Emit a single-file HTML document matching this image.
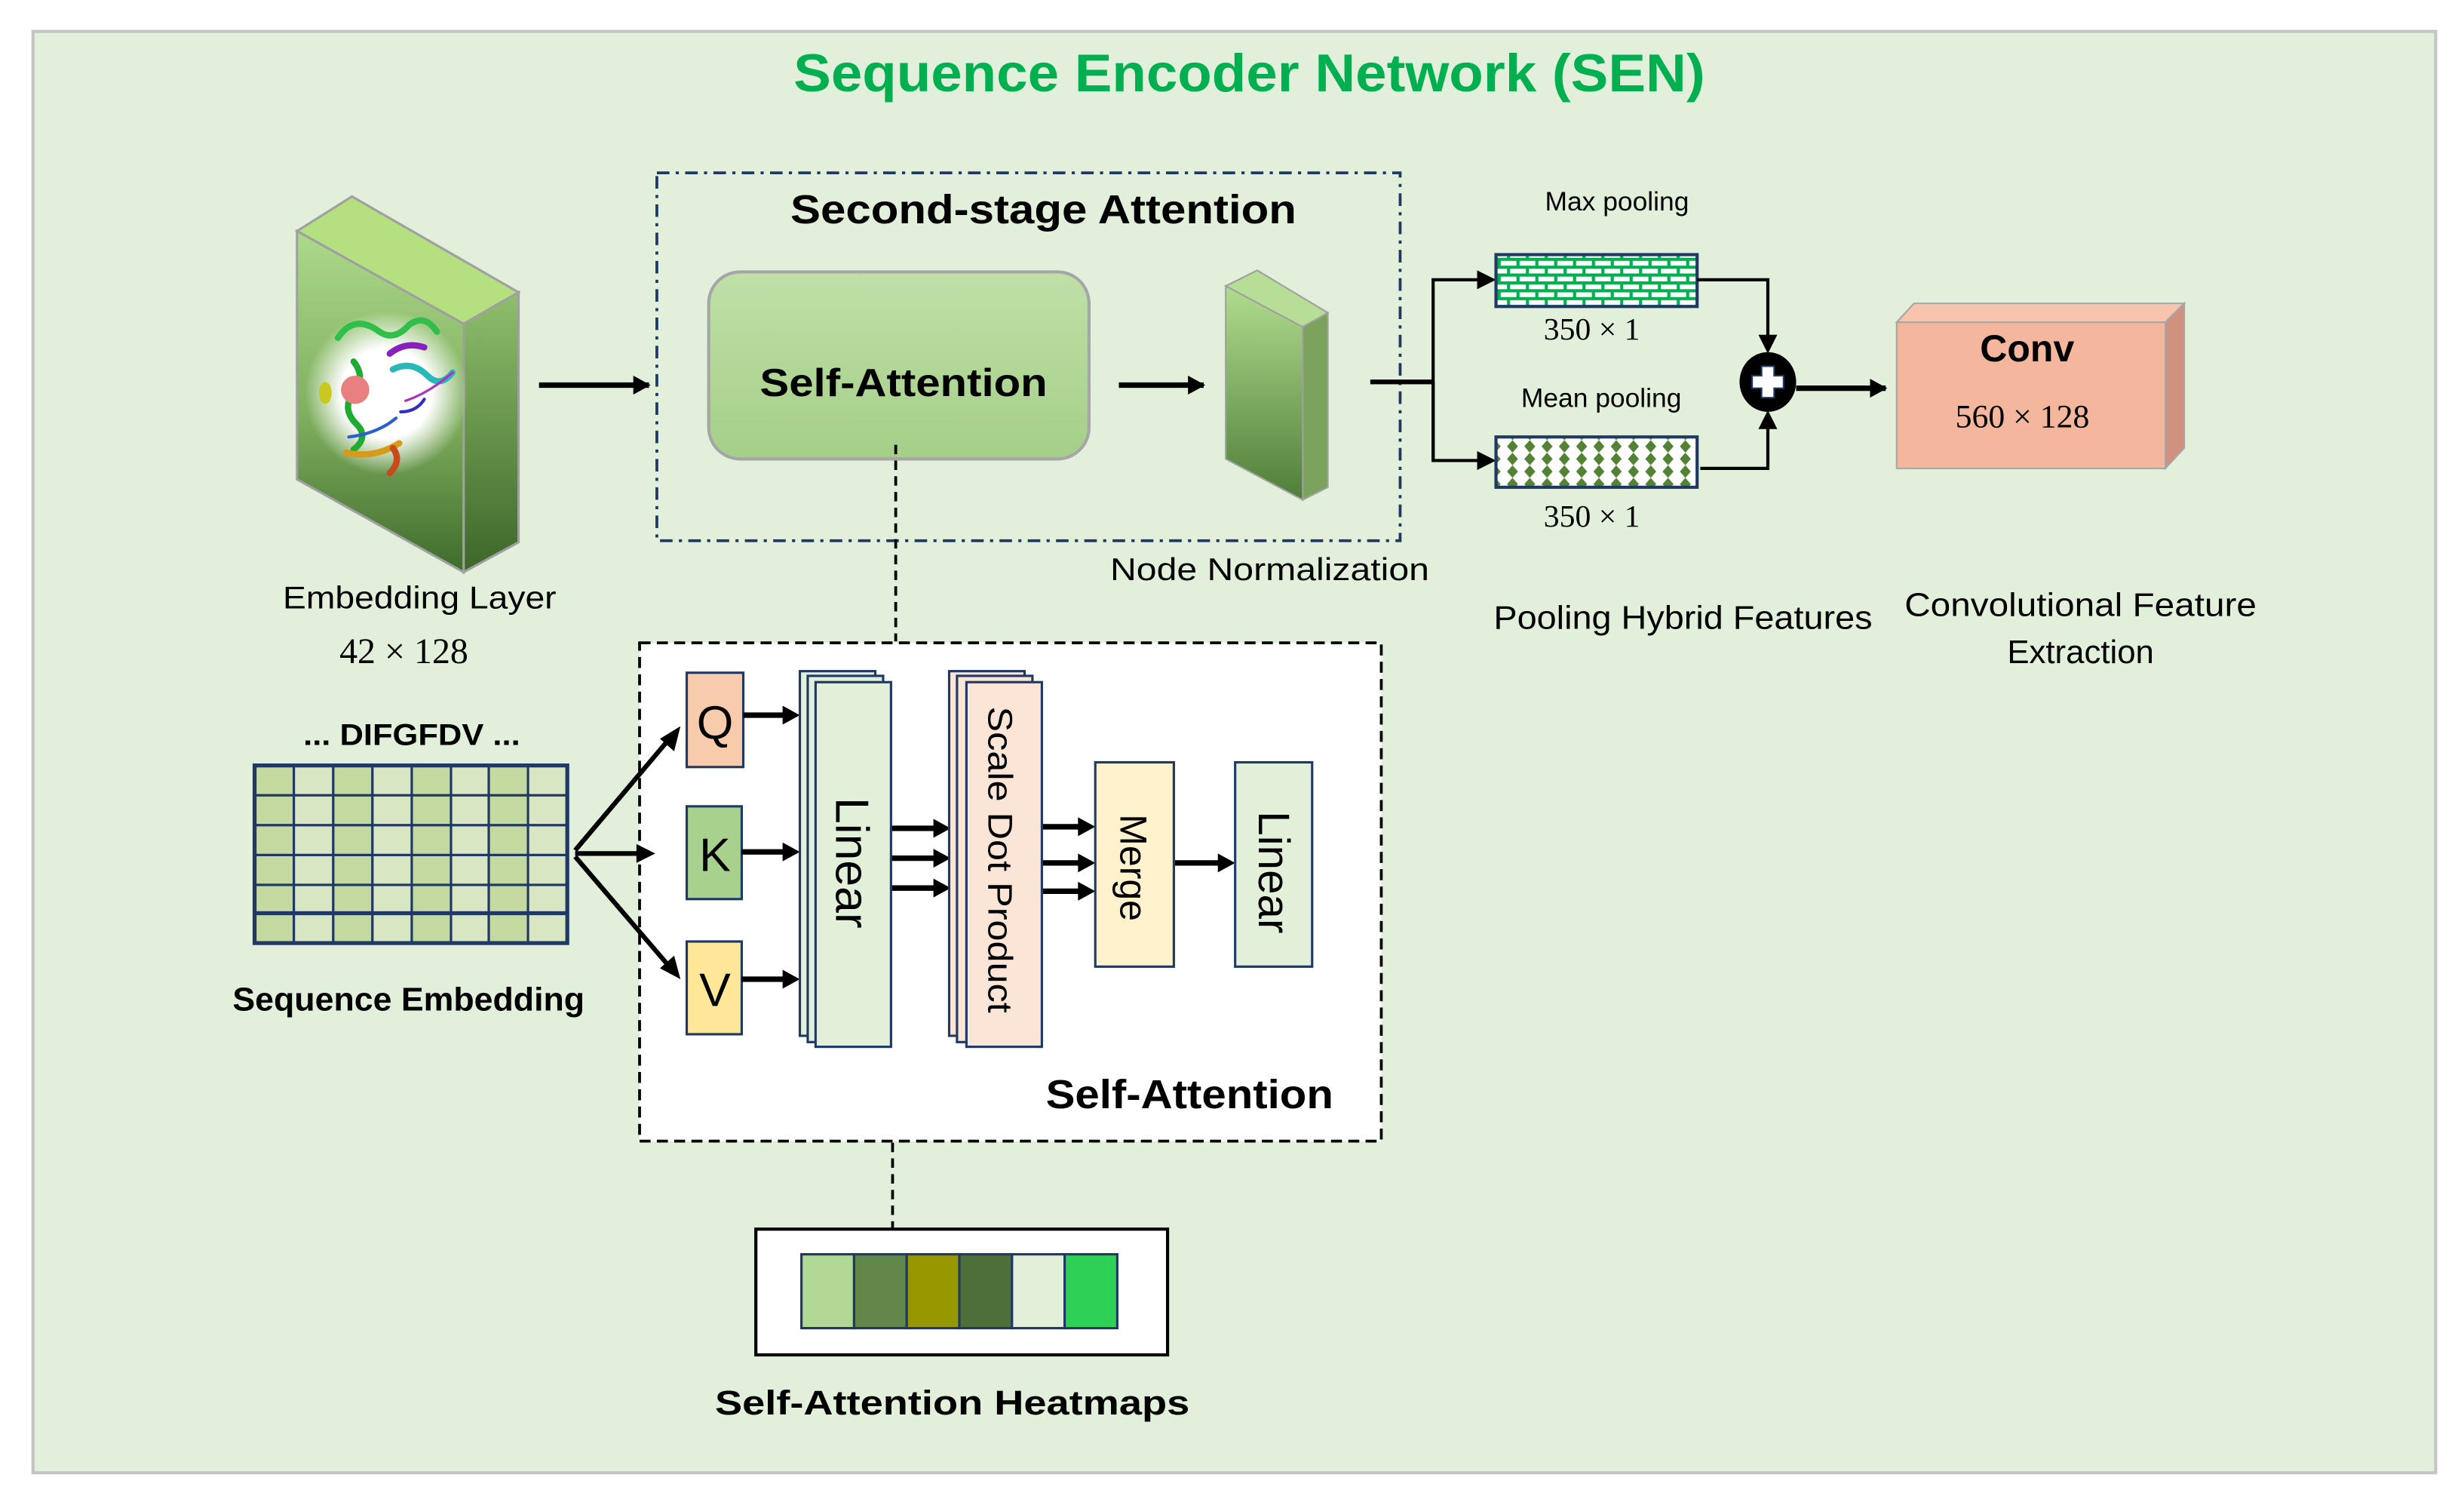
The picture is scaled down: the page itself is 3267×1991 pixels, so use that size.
<!DOCTYPE html>
<html><head><meta charset="utf-8"><style>html,body{margin:0;padding:0;background:#fff}svg{display:block}</style></head>
<body>
<svg width="3267" height="1991" viewBox="0 0 1568 955.6" xmlns="http://www.w3.org/2000/svg" font-family="Liberation Sans, sans-serif">
<defs>
<linearGradient id="emb" x1="0" y1="0" x2="0" y2="1"><stop offset="0" stop-color="#acd98a"/><stop offset="0.55" stop-color="#7fae5e"/><stop offset="1" stop-color="#3f6b2c"/></linearGradient>
<linearGradient id="embR" x1="0" y1="0" x2="0" y2="1"><stop offset="0" stop-color="#8fbf6c"/><stop offset="1" stop-color="#3d6629"/></linearGradient>
<radialGradient id="glow" cx="0.5" cy="0.5" r="0.5"><stop offset="0.55" stop-color="#fff"/><stop offset="1" stop-color="#fff" stop-opacity="0"/></radialGradient>
<linearGradient id="sa" x1="0" y1="0" x2="0" y2="1"><stop offset="0" stop-color="#bfe0a8"/><stop offset="1" stop-color="#a5cf88"/></linearGradient>
<linearGradient id="nn" x1="0" y1="0" x2="0" y2="1"><stop offset="0" stop-color="#b0dc8e"/><stop offset="1" stop-color="#4f7e38"/></linearGradient>
<pattern id="brick" width="12" height="10" patternUnits="userSpaceOnUse"><rect width="12" height="10" fill="#00b050"/><rect x="1" y="1" width="10" height="3" fill="#fff"/><rect x="-5" y="6" width="10" height="3" fill="#fff"/><rect x="7" y="6" width="10" height="3" fill="#fff"/></pattern>
<pattern id="diam" width="11" height="16" patternUnits="userSpaceOnUse"><rect width="11" height="16" fill="#fff"/><path d="M5.5 0 L9 4 L5.5 8 L2 4Z M5.5 8 L9 12 L5.5 16 L2 12Z" fill="#548235"/></pattern>
<marker id="ahs" markerWidth="12" markerHeight="12" refX="10" refY="6" orient="auto" markerUnits="userSpaceOnUse"><path d="M0 0 L11 6 L0 12Z" fill="#000"/></marker>
</defs>
<rect x="21" y="20" width="1529" height="917" fill="#e2efda" stroke="#c4c4c4" stroke-width="2"/>
<text x="795" y="58" text-anchor="middle" font-size="34" font-weight="bold" fill="#00b050" textLength="580" lengthAdjust="spacingAndGlyphs">Sequence Encoder Network (SEN)</text>

<polygon points="189,147 224,125 330,186 295,206" fill="#b5e07f" stroke="#a0a0a0" stroke-width="1.5"/>
<polygon points="295,206 330,186 330,345 295,364" fill="url(#embR)" stroke="#a0a0a0" stroke-width="1.5"/>
<polygon points="189,147 295,206 295,364 189,305" fill="url(#emb)" stroke="#a0a0a0" stroke-width="1.5"/>
<ellipse cx="246" cy="250" rx="52" ry="52" fill="url(#glow)"/>
<g fill="none" stroke-width="4" stroke-linecap="round">
<path d="M215 215 q10 -15 25 -5 q10 8 20 -3 q10 -8 18 4" stroke="#2fbf4a"/>
<path d="M225 230 q8 10 0 20 q-8 10 2 20 q8 8 -2 16" stroke="#1faa30"/>
<path d="M250 235 q12 -6 22 4 q8 8 16 -2" stroke="#29b8b8"/>
<path d="M248 225 q10 -8 22 -4" stroke="#8a1fc0"/>
<path d="M222 278 q18 -2 30 -12" stroke="#2a5fd0" stroke-width="2"/>
<path d="M220 288 q18 4 34 -6" stroke="#d79a1a"/>
<path d="M250 285 q6 8 -2 16" stroke="#c84a1a"/>
<path d="M258 255 q15 -5 30 -18" stroke="#b030c0" stroke-width="1.5"/>
<path d="M255 262 q10 0 15 -8" stroke="#3030c0" stroke-width="2"/>
</g>
<ellipse cx="226" cy="248" rx="9" ry="9" fill="#e88080"/>
<ellipse cx="207" cy="250" rx="4" ry="7" fill="#c8c820"/>

<line x1="343" y1="245" x2="413" y2="245" stroke="#000" stroke-width="3.5" marker-end="url(#ahs)"/>

<rect x="418" y="110" width="473" height="234" fill="none" stroke="#1f3864" stroke-width="1.8" stroke-dasharray="8,4,2,4"/>
<text x="664" y="142" text-anchor="middle" font-size="26" font-weight="bold" textLength="322" lengthAdjust="spacingAndGlyphs">Second-stage Attention</text>
<rect x="451" y="173" width="242" height="119" rx="20" fill="url(#sa)" stroke="#a6a6a6" stroke-width="2"/>
<text x="575" y="252" text-anchor="middle" font-size="25" font-weight="bold" textLength="183" lengthAdjust="spacingAndGlyphs">Self-Attention</text>
<line x1="712" y1="245" x2="766" y2="245" stroke="#000" stroke-width="3.5" marker-end="url(#ahs)"/>
<polygon points="780,182 800,172 845,199 829,208" fill="#b6de96" stroke="#a0a0a0"/>
<polygon points="829,208 845,199 845,310 829,318" fill="#7ba35d" stroke="#a0a0a0"/>
<polygon points="780,182 829,208 829,318 780,292" fill="url(#nn)" stroke="#a0a0a0"/>
<text x="808" y="369" text-anchor="middle" font-size="20" textLength="203" lengthAdjust="spacingAndGlyphs">Node Normalization</text>

<line x1="872" y1="243" x2="912" y2="243" stroke="#000" stroke-width="3"/>
<polyline points="912,293 912,178 948,178" fill="none" stroke="#000" stroke-width="2"/>
<path d="M940 172 L952 178 L940 184Z"/>
<polyline points="912,243 912,293 948,293" fill="none" stroke="#000" stroke-width="2"/>
<path d="M940 287 L952 293 L940 299Z"/>
<text x="1029" y="134" text-anchor="middle" font-size="17">Max pooling</text>
<rect x="952" y="162" width="128" height="33" fill="url(#brick)" stroke="#1f3864" stroke-width="2"/>
<text x="1013" y="216" text-anchor="middle" font-size="20" font-family="Liberation Serif, serif">350 × 1</text>
<text x="1019" y="259" text-anchor="middle" font-size="17">Mean pooling</text>
<rect x="952" y="278" width="128" height="32" fill="url(#diam)" stroke="#1f3864" stroke-width="2"/>
<text x="1013" y="335" text-anchor="middle" font-size="20" font-family="Liberation Serif, serif">350 × 1</text>
<polyline points="1080,178 1125,178 1125,216" fill="none" stroke="#000" stroke-width="2"/>
<path d="M1119 213 L1125 225 L1131 213Z"/>
<polyline points="1082,298 1125,298 1125,270" fill="none" stroke="#000" stroke-width="2"/>
<path d="M1119 273 L1125 261 L1131 273Z"/>
<ellipse cx="1125" cy="243" rx="18" ry="19" fill="#000"/>
<path d="M1121 233 h8 v6 h6 v8 h-6 v6 h-8 v-6 h-6 v-8 h6Z" fill="#fff" stroke="#1f3864" stroke-width="1"/>
<line x1="1143" y1="247" x2="1200" y2="247" stroke="#000" stroke-width="3.5" marker-end="url(#ahs)"/>
<text x="1071" y="400" text-anchor="middle" font-size="21" textLength="241" lengthAdjust="spacingAndGlyphs">Pooling Hybrid Features</text>

<polygon points="1207,205 1218,193 1390,193 1378,205" fill="#f8c4ae" stroke="#a6a6a6"/>
<polygon points="1378,205 1390,193 1390,285 1378,298" fill="#d0927e" stroke="#a6a6a6"/>
<rect x="1207" y="205" width="171" height="93" fill="#f4b69d" stroke="#a6a6a6"/>
<text x="1290" y="230" text-anchor="middle" font-size="24" font-weight="bold">Conv</text>
<text x="1287" y="272" text-anchor="middle" font-size="21" font-family="Liberation Serif, serif">560 × 128</text>
<text x="1324" y="392" text-anchor="middle" font-size="21" textLength="224" lengthAdjust="spacingAndGlyphs">Convolutional Feature</text>
<text x="1324" y="422" text-anchor="middle" font-size="21">Extraction</text>

<text x="267" y="387" text-anchor="middle" font-size="20" textLength="174" lengthAdjust="spacingAndGlyphs">Embedding Layer</text>
<text x="257" y="422" text-anchor="middle" font-size="23" font-family="Liberation Serif, serif">42 × 128</text>

<line x1="570" y1="283" x2="570" y2="408" stroke="#000" stroke-width="1.8" stroke-dasharray="6,4"/>

<text x="262" y="474" text-anchor="middle" font-size="19" font-weight="bold" textLength="138" lengthAdjust="spacingAndGlyphs">... DIFGFDV ...</text>
<g stroke="#1f3864" stroke-width="1.5">
<g fill="#c3d9a0">
<rect x="162" y="487" width="25" height="19"/><rect x="212" y="487" width="25" height="19"/><rect x="262" y="487" width="25" height="19"/><rect x="311" y="487" width="25" height="19"/>
<rect x="162" y="506" width="25" height="19"/><rect x="212" y="506" width="25" height="19"/><rect x="262" y="506" width="25" height="19"/><rect x="311" y="506" width="25" height="19"/>
<rect x="162" y="525" width="25" height="19"/><rect x="212" y="525" width="25" height="19"/><rect x="262" y="525" width="25" height="19"/><rect x="311" y="525" width="25" height="19"/>
<rect x="162" y="544" width="25" height="19"/><rect x="212" y="544" width="25" height="19"/><rect x="262" y="544" width="25" height="19"/><rect x="311" y="544" width="25" height="19"/>
<rect x="162" y="563" width="25" height="18"/><rect x="212" y="563" width="25" height="18"/><rect x="262" y="563" width="25" height="18"/><rect x="311" y="563" width="25" height="18"/>
<rect x="162" y="581" width="25" height="19"/><rect x="212" y="581" width="25" height="19"/><rect x="262" y="581" width="25" height="19"/><rect x="311" y="581" width="25" height="19"/>
</g>
<g fill="#d8e6c4">
<rect x="187" y="487" width="25" height="19"/><rect x="237" y="487" width="25" height="19"/><rect x="287" y="487" width="24" height="19"/><rect x="336" y="487" width="25" height="19"/>
<rect x="187" y="506" width="25" height="19"/><rect x="237" y="506" width="25" height="19"/><rect x="287" y="506" width="24" height="19"/><rect x="336" y="506" width="25" height="19"/>
<rect x="187" y="525" width="25" height="19"/><rect x="237" y="525" width="25" height="19"/><rect x="287" y="525" width="24" height="19"/><rect x="336" y="525" width="25" height="19"/>
<rect x="187" y="544" width="25" height="19"/><rect x="237" y="544" width="25" height="19"/><rect x="287" y="544" width="24" height="19"/><rect x="336" y="544" width="25" height="19"/>
<rect x="187" y="563" width="25" height="18"/><rect x="237" y="563" width="25" height="18"/><rect x="287" y="563" width="24" height="18"/><rect x="336" y="563" width="25" height="18"/>
<rect x="187" y="581" width="25" height="19"/><rect x="237" y="581" width="25" height="19"/><rect x="287" y="581" width="24" height="19"/><rect x="336" y="581" width="25" height="19"/>
</g>
</g>
<rect x="162" y="487" width="199" height="113" fill="none" stroke="#1f3864" stroke-width="2.5"/>
<line x1="162" y1="581" x2="361" y2="581" stroke="#1f3864" stroke-width="2.5"/>
<text x="260" y="643" text-anchor="middle" font-size="21" font-weight="bold" textLength="224" lengthAdjust="spacingAndGlyphs">Sequence Embedding</text>

<rect x="407" y="409" width="472" height="317" fill="#fff" stroke="#000" stroke-width="1.8" stroke-dasharray="7,4"/>

<g stroke="#000" stroke-width="3" fill="none">
<line x1="366" y1="541" x2="426" y2="470"/>
<line x1="366" y1="543" x2="410" y2="543"/>
<line x1="366" y1="545" x2="426" y2="615"/>
</g>
<path d="M433 462 L429 478 L420 470Z"/>
<path d="M417 543 L405 537 L405 549Z"/>
<path d="M433 623 L420 616 L429 608Z"/>

<rect x="437" y="428" width="36" height="60" fill="#f8cbad" stroke="#1f3864" stroke-width="1.5"/>
<text x="455" y="470" text-anchor="middle" font-size="30">Q</text>
<rect x="437" y="513" width="35" height="59" fill="#a9d18e" stroke="#1f3864" stroke-width="1.5"/>
<text x="455" y="554" text-anchor="middle" font-size="30">K</text>
<rect x="437" y="599" width="35" height="59" fill="#ffe699" stroke="#1f3864" stroke-width="1.5"/>
<text x="455" y="640" text-anchor="middle" font-size="30">V</text>
<g stroke="#000" stroke-width="3.5">
<line x1="473" y1="455" x2="500" y2="455"/><line x1="472" y1="542" x2="500" y2="542"/><line x1="472" y1="623" x2="500" y2="623"/>
<line x1="567" y1="527" x2="596" y2="527"/><line x1="567" y1="546" x2="596" y2="546"/><line x1="567" y1="565" x2="596" y2="565"/>
<line x1="663" y1="526" x2="688" y2="526"/><line x1="663" y1="549" x2="688" y2="549"/><line x1="663" y1="567" x2="688" y2="567"/>
<line x1="747" y1="549" x2="777" y2="549"/>
</g>
<g>
<path d="M498 449 L509 455 L498 461Z"/><path d="M498 536 L509 542 L498 548Z"/><path d="M498 617 L509 623 L498 629Z"/>
<path d="M594 521 L605 527 L594 533Z"/><path d="M594 540 L605 546 L594 552Z"/><path d="M594 559 L605 565 L594 571Z"/>
<path d="M686 520 L697 526 L686 532Z"/><path d="M686 543 L697 549 L686 555Z"/><path d="M686 561 L697 567 L686 573Z"/>
<path d="M775 543 L786 549 L775 555Z"/>
</g>
<g stroke="#1f3864" stroke-width="1.5">
<rect x="509" y="427" width="48" height="232" fill="#e2f0d9"/>
<rect x="514" y="430" width="48" height="233" fill="#e2f0d9"/>
<rect x="519" y="434" width="48" height="232" fill="#e2f0d9"/>
<rect x="604" y="427" width="48" height="232" fill="#fbe5d6"/>
<rect x="609" y="430" width="48" height="233" fill="#fbe5d6"/>
<rect x="615" y="434" width="48" height="232" fill="#fbe5d6"/>
<rect x="697" y="485" width="50" height="130" fill="#fff2cc"/>
<rect x="786" y="485" width="49" height="130" fill="#e2f0d9"/>
</g>
<text transform="translate(532,549) rotate(90)" text-anchor="middle" font-size="30">Linear</text>
<text transform="translate(629,547) rotate(90)" text-anchor="middle" font-size="22" textLength="195" lengthAdjust="spacingAndGlyphs">Scale Dot Product</text>
<text transform="translate(713,552) rotate(90)" text-anchor="middle" font-size="24">Merge</text>
<text transform="translate(801,555) rotate(90)" text-anchor="middle" font-size="28">Linear</text>
<text x="757" y="705" text-anchor="middle" font-size="26" font-weight="bold" textLength="183" lengthAdjust="spacingAndGlyphs">Self-Attention</text>

<line x1="568" y1="727" x2="568" y2="782" stroke="#000" stroke-width="1.8" stroke-dasharray="6,4"/>
<rect x="481" y="782" width="262" height="80" fill="#fff" stroke="#000" stroke-width="2"/>
<g stroke="#1f3864" stroke-width="1.5">
<rect x="510" y="798" width="33.5" height="47" fill="#b1d894"/>
<rect x="543.5" y="798" width="33.5" height="47" fill="#62874a"/>
<rect x="577" y="798" width="33.5" height="47" fill="#979700"/>
<rect x="610.5" y="798" width="33.5" height="47" fill="#4f6f3a"/>
<rect x="644" y="798" width="33.5" height="47" fill="#e2f0d9"/>
<rect x="677.5" y="798" width="33.5" height="47" fill="#2ed155"/>
</g>
<text x="606" y="900" text-anchor="middle" font-size="22" font-weight="bold" textLength="302" lengthAdjust="spacingAndGlyphs">Self-Attention Heatmaps</text>
</svg>
</body></html>
